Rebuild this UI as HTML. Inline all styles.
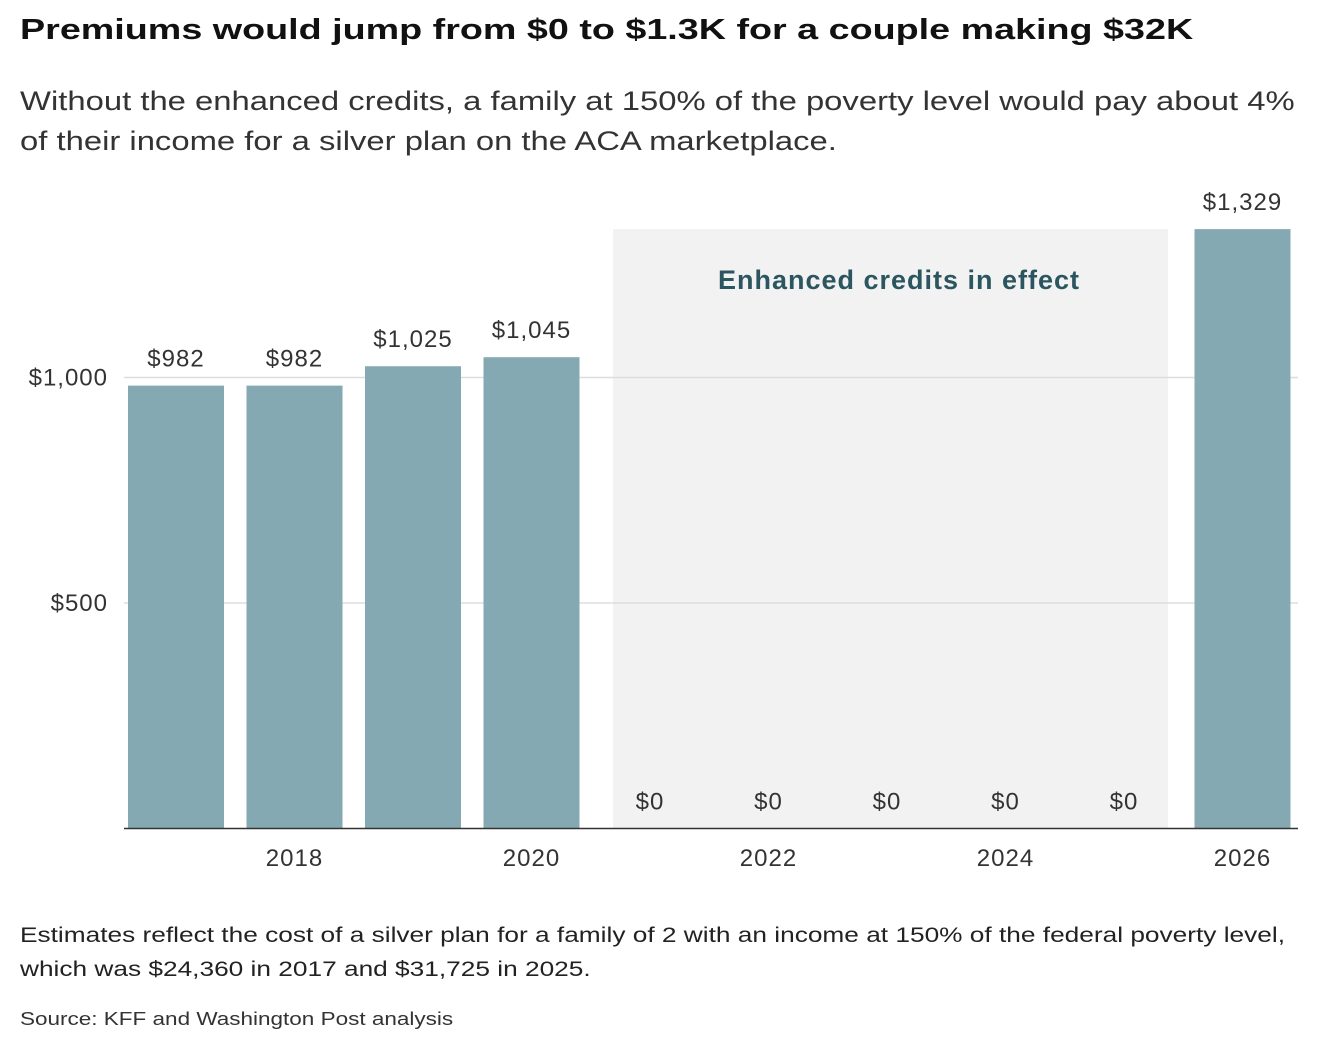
<!DOCTYPE html>
<html><head><meta charset="utf-8"><style>
body{margin:0;background:#fff;font-family:"Liberation Sans",sans-serif;color:#222;width:1336px;height:1048px;overflow:hidden;position:relative}
.w{position:absolute;left:20px;white-space:nowrap;transform-origin:0 0}
.t{top:14px;font-size:29px;font-weight:bold;color:#111;transform:scaleX(1.3)}
.s{font-size:27px;color:#333;transform:scaleX(1.215)}
.n{font-size:21px;color:#222;transform:scaleX(1.25)}
.src{top:1009px;font-size:18px;color:#333;transform:scaleX(1.25)}
svg{position:absolute;left:0;top:0}
svg text{letter-spacing:1px}
</style></head><body>
<div class="w t">Premiums would jump from $0 to $1.3K for a couple making $32K</div>
<div>
<div class="w s" style="top:86px">Without the enhanced credits, a family at 150% of the poverty level would pay about 4%</div>
<div class="w s" style="top:126px">of their income for a silver plan on the ACA marketplace.</div>
</div>
<svg id="c" width="1336" height="1048"></svg>
<div>
<div class="w n" style="top:924px">Estimates reflect the cost of a silver plan for a family of 2 with an income at 150% of the federal poverty level,</div>
<div class="w n" style="top:958px">which was $24,360 in 2017 and $31,725 in 2025.</div>
</div>
<div class="w src">Source: KFF and Washington Post analysis</div>
<script>
const years=[2017,2018,2019,2020,2021,2022,2023,2024,2025,2026];
const values=[982,982,1025,1045,0,0,0,0,0,1329];
const valueLabels=["$982","$982","$1,025","$1,045","$0","$0","$0","$0","$0","$1,329"];
const yTicks=[500,1000];
const yTickLabels=["$500","$1,000"];
const xTicks=[2018,2020,2022,2024,2026];
const shadeStart=2021, shadeEnd=2025;
const NS="http://www.w3.org/2000/svg";
const svg=document.getElementById('c');
const y0=828.5, k=225.5/500;
const y=v=>y0-v*k;
const step=118.5, x0=176;
const xc=yr=>x0+(yr-2017)*step;
const bw=96;
function mk(t,a){const e=document.createElementNS(NS,t);for(const q in a)e.setAttribute(q,a[q]);svg.appendChild(e);return e;}
let r=mk('rect',{x:xc(shadeStart)-37,y:y(1329),width:xc(shadeEnd)-xc(shadeStart)+81,height:y0-y(1329),fill:'#f2f2f2'});


let st=mk('text',{x:(xc(shadeStart)+xc(shadeEnd))/2+12,y:289,'text-anchor':'middle','font-size':27,'font-weight':'bold',fill:'#2b5660','font-family':'Liberation Sans'});
st.textContent='Enhanced credits in effect';


yTicks.forEach((v,i)=>{
 let l=mk('line',{x1:124,x2:1298,y1:y(v),y2:y(v),stroke:'#ddd','stroke-width':1.5});
 
 
 let t=mk('text',{x:108,y:y(v)+8,'text-anchor':'end','font-size':24,fill:'#333'});
 t.textContent=yTickLabels[i];
 
 
});
years.forEach((yr,i)=>{
 let b=mk('rect',{x:xc(yr)-bw/2,y:y(values[i]),width:bw,height:y0-y(values[i]),fill:'#84a9b3'});
 
 
 let t=mk('text',{x:xc(yr),y:y(values[i])-19,'text-anchor':'middle','font-size':24,fill:'#333'});
 t.textContent=valueLabels[i];
 
 
});
let ax=mk('line',{x1:124,x2:1298,y1:y0,y2:y0,stroke:'#333','stroke-width':1.5});


xTicks.forEach(yr=>{
 let t=mk('text',{x:xc(yr),y:866,'text-anchor':'middle','font-size':24,fill:'#333'});
 t.textContent=yr;
 
 
});
</script>
</body></html>
